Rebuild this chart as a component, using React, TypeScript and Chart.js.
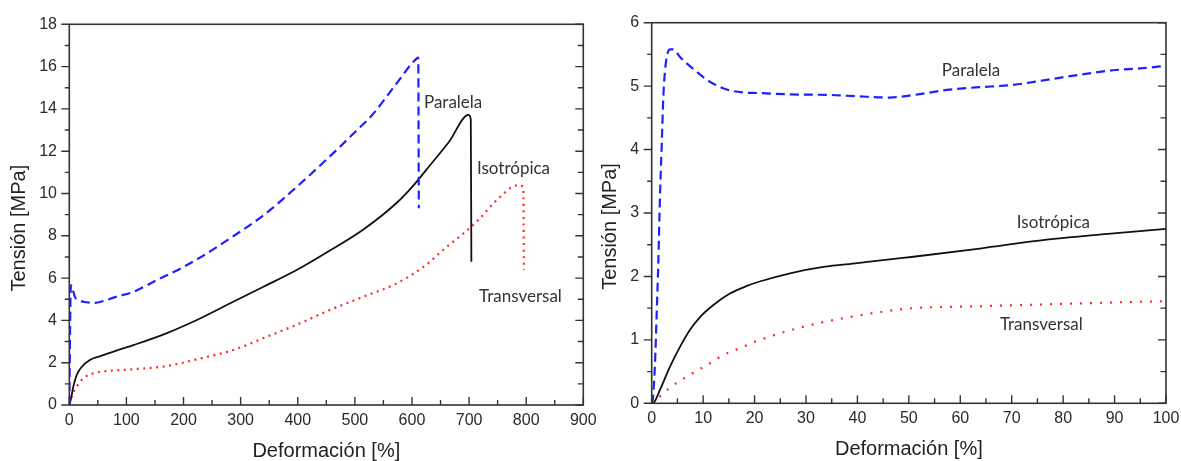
import React, { useEffect, useRef } from "react";
import { Chart, registerables } from "chart.js";

Chart.register(...registerables);

const FONT = "'Liberation Sans', Arial, Helvetica, sans-serif";
const ANNOT_FONT = "Lato, 'Open Sans', sans-serif";

// ---------- Left chart (0–900 %) ----------
const leftParalelaX = [0, 1, 2, 3, 6, 10, 17, 25, 35, 45, 60, 80, 112, 153, 200, 240, 281, 340, 398, 460, 500, 530, 573, 608, 611, 612];
const leftParalelaY = [0, 2.5, 5.0, 5.67, 5.45, 5.1, 4.95, 4.88, 4.84, 4.83, 4.92, 5.1, 5.35, 5.9, 6.53, 7.15, 7.87, 8.97, 10.31, 11.85, 12.9, 13.7, 15.2, 16.38, 16.42, 9.3];

const leftIsoX = [0, 3, 7, 13, 22, 36, 54, 80, 112, 170, 229, 287, 340, 398, 456, 515, 573, 600, 632, 665, 699, 703, 704];
const leftIsoY = [0, 0.3, 0.87, 1.42, 1.81, 2.13, 2.31, 2.55, 2.83, 3.39, 4.09, 4.88, 5.59, 6.38, 7.3, 8.3, 9.55, 10.3, 11.35, 12.45, 13.72, 13.5, 6.77];

const leftTransX = [0, 4, 13, 24.5, 42, 54, 112, 170, 229, 287, 346, 404, 456, 515, 573, 620, 661, 690, 716, 748, 786, 795, 796];
const leftTransY = [0.05, 0.39, 0.87, 1.26, 1.5, 1.57, 1.69, 1.84, 2.2, 2.6, 3.23, 3.86, 4.49, 5.12, 5.75, 6.53, 7.48, 8.11, 8.74, 9.68, 10.39, 10.3, 6.38];

const leftXTicks = [0, 100, 200, 300, 400, 500, 600, 700, 800, 900];
const leftXMinor = [50, 150, 250, 350, 450, 550, 650, 750, 850];
const leftYTicks = [0, 2, 4, 6, 8, 10, 12, 14, 16, 18];
const leftYMinor = [1, 3, 5, 7, 9, 11, 13, 15, 17];

const leftLabels = ["Paralela", "Isotrópica", "Transversal"];
const leftLabelX = [621, 713.8, 717.4];
const leftLabelY = [14.04, 10.9, 4.88];

// ---------- Right chart (0–100 %) ----------
const rightParalelaX = [0, 0.2, 0.64, 0.97, 1.28, 1.61, 1.94, 2.26, 2.6, 2.92, 3.56, 4.2, 5.5, 8.4, 11.3, 14.9, 17.8, 21, 26.9, 35, 40, 46.3, 50.9, 57.4, 63, 70.3, 76.8, 83.3, 89.7, 95, 100];
const rightParalelaY = [0, 0.05, 0.63, 1.42, 2.2, 3.26, 4.05, 4.83, 5.25, 5.46, 5.58, 5.58, 5.46, 5.25, 5.07, 4.94, 4.9, 4.89, 4.87, 4.86, 4.84, 4.82, 4.86, 4.94, 4.98, 5.02, 5.1, 5.18, 5.25, 5.28, 5.32];

const rightIsoX = [0, 0.5, 1.6, 3.56, 5.5, 7.45, 9.4, 12, 15.2, 18.5, 21, 26.9, 33.4, 40, 46.3, 50.9, 63.8, 76.8, 89.8, 100];
const rightIsoY = [0, 0.02, 0.21, 0.58, 0.89, 1.16, 1.36, 1.55, 1.73, 1.85, 1.92, 2.05, 2.15, 2.21, 2.27, 2.31, 2.44, 2.58, 2.68, 2.75];

const rightTransX = [0, 1.94, 3.43, 5.2, 7.1, 9.1, 10.7, 13.9, 17.5, 20.4, 26.9, 33.4, 39.9, 46.3, 50.9, 63.8, 76.8, 89.8, 100];
const rightTransY = [0, 0.13, 0.24, 0.34, 0.43, 0.53, 0.6, 0.76, 0.88, 0.98, 1.15, 1.28, 1.38, 1.46, 1.5, 1.53, 1.56, 1.59, 1.61];

const rightXTicks = [0, 10, 20, 30, 40, 50, 60, 70, 80, 90, 100];
const rightXMinor = [5, 15, 25, 35, 45, 55, 65, 75, 85, 95];
const rightYTicks = [0, 1, 2, 3, 4, 5, 6];
const rightYMinor = [0.5, 1.5, 2.5, 3.5, 4.5, 5.5];

const rightLabels = ["Paralela", "Isotrópica", "Transversal"];
const rightLabelX = [56.4, 71.0, 67.7];
const rightLabelY = [5.16, 2.77, 1.155];

const X_TITLE = "Deformación [%]";
const Y_TITLE = "Tensión [MPa]";

const BLUE = "#2020ff";
const BLACK = "#111111";
const RED = "#ff2a2a";
const AXIS = "#333333";

function zip(xs: number[], ys: number[]) {
  return xs.map((x, i) => ({ x, y: ys[i] }));
}

type Spec = {
  width: number;
  xMax: number;
  yMax: number;
  xTicks: number[];
  xMinor: number[];
  yTicks: number[];
  yMinor: number[];
  yAxisWidth: number;
  xAxisHeight: number;
  padTop: number;
  padRight: number;
  yLabelPad: number;
  yTitleX: number;
  labels: string[];
  labelX: number[];
  labelY: number[];
  dotGap: number;
  series: { x: number[]; y: number[] }[];
};

function makePlugin(spec: Spec) {
  return {
    id: "frameTicks",
    afterDraw(chart: any) {
      const { ctx, chartArea } = chart;
      const { left, right, top, bottom } = chartArea;
      const xs = chart.scales.x;
      const ys = chart.scales.y;
      ctx.save();
      ctx.strokeStyle = AXIS;
      ctx.lineWidth = 1.6;
      ctx.strokeRect(left, top, right - left, bottom - top);
      ctx.lineWidth = 1.4;
      ctx.beginPath();
      for (const v of spec.xTicks) {
        const p = xs.getPixelForValue(v);
        ctx.moveTo(p, bottom);
        ctx.lineTo(p, bottom - 8);
      }
      for (const v of spec.xMinor) {
        const p = xs.getPixelForValue(v);
        ctx.moveTo(p, bottom);
        ctx.lineTo(p, bottom - 5);
      }
      for (const v of spec.yTicks) {
        const p = ys.getPixelForValue(v);
        ctx.moveTo(left, p);
        ctx.lineTo(left - 8, p);
        ctx.moveTo(right, p);
        ctx.lineTo(right - 8, p);
      }
      for (const v of spec.yMinor) {
        const p = ys.getPixelForValue(v);
        ctx.moveTo(left, p);
        ctx.lineTo(left - 4.5, p);
        ctx.moveTo(right, p);
        ctx.lineTo(right - 5.5, p);
      }
      ctx.stroke();

      // axis titles
      ctx.fillStyle = "#222222";
      ctx.font = `20px ${FONT}`;
      ctx.textAlign = "center";
      ctx.textBaseline = "middle";
      ctx.fillText(X_TITLE, (left + right) / 2, bottom + 46.5);
      ctx.save();
      ctx.translate(spec.yTitleX, (top + bottom) / 2 + 13.5);
      ctx.rotate(-Math.PI / 2);
      ctx.fillText(Y_TITLE, 0, 0);
      ctx.restore();

      // curve labels
      ctx.fillStyle = "#333333";
      ctx.font = `17px ${ANNOT_FONT}`;
      ctx.textAlign = "left";
      ctx.textBaseline = "alphabetic";
      spec.labels.forEach((t, i) => {
        ctx.fillText(t, xs.getPixelForValue(spec.labelX[i]), ys.getPixelForValue(spec.labelY[i]));
      });
      ctx.restore();
    },
  };
}

function ChartPanel({ spec, left }: { spec: Spec; left: number }) {
  const ref = useRef<HTMLCanvasElement | null>(null);
  useEffect(() => {
    if (!ref.current) return;
    const [par, iso, tra] = spec.series;
    const chart = new Chart(ref.current, {
      type: "scatter",
      data: {
        datasets: [
          {
            label: "Paralela",
            data: zip(par.x, par.y),
            showLine: true,
            borderColor: BLUE,
            backgroundColor: BLUE,
            borderWidth: 2.2,
            borderDash: [9, 5],
            pointRadius: 0,
            cubicInterpolationMode: "monotone",
          },
          {
            label: "Isotrópica",
            data: zip(iso.x, iso.y),
            showLine: true,
            borderColor: BLACK,
            backgroundColor: BLACK,
            borderWidth: 1.8,
            pointRadius: 0,
            cubicInterpolationMode: "monotone",
          },
          {
            label: "Transversal",
            data: zip(tra.x, tra.y),
            showLine: true,
            borderColor: RED,
            backgroundColor: RED,
            borderWidth: 2.2,
            borderDash: [2, spec.dotGap],
            pointRadius: 0,
            cubicInterpolationMode: "monotone",
          },
        ],
      },
      options: {
        animation: false,
        responsive: false,
        maintainAspectRatio: false,
        layout: { padding: { left: 0, top: spec.padTop, right: spec.padRight, bottom: 0 } },
        plugins: { legend: { display: false }, tooltip: { enabled: false } },
        scales: {
          x: {
            type: "linear",
            min: 0,
            max: spec.xMax,
            grid: { display: false, drawTicks: false },
            border: { display: false },
            ticks: {
              font: { family: FONT, size: 16 },
              color: "#2a2a2a",
              padding: 6,
              maxRotation: 0,
              autoSkip: false,
            },
            afterBuildTicks: (s: any) => {
              s.ticks = spec.xTicks.map((v) => ({ value: v }));
            },
            afterFit: (s: any) => {
              s.height = spec.xAxisHeight;
              s.paddingLeft = 0;
              s.paddingRight = 0;
            },
          },
          y: {
            type: "linear",
            min: 0,
            max: spec.yMax,
            grid: { display: false, drawTicks: false },
            border: { display: false },
            ticks: {
              font: { family: FONT, size: 16 },
              color: "#2a2a2a",
              padding: spec.yLabelPad,
              autoSkip: false,
            },
            afterBuildTicks: (s: any) => {
              s.ticks = spec.yTicks.map((v) => ({ value: v }));
            },
            afterFit: (s: any) => {
              s.width = spec.yAxisWidth;
            },
          },
        },
      },
      plugins: [makePlugin(spec)],
    } as any);
    return () => chart.destroy();
  }, [spec]);
  return (
    <canvas
      ref={ref}
      width={spec.width}
      height={461}
      style={{ position: "absolute", left, top: 0, width: spec.width, height: 461 }}
    />
  );
}

const leftSpec: Spec = {
  width: 598,
  xMax: 900,
  yMax: 18,
  xTicks: leftXTicks,
  xMinor: leftXMinor,
  yTicks: leftYTicks,
  yMinor: leftYMinor,
  yAxisWidth: 69.3,
  xAxisHeight: 56,
  padTop: 24.3,
  padRight: 598 - 583.3,
  yLabelPad: 12.3,
  yTitleX: 19,
  labels: leftLabels,
  labelX: leftLabelX,
  labelY: leftLabelY,
  dotGap: 4.5,
  series: [
    { x: leftParalelaX, y: leftParalelaY },
    { x: leftIsoX, y: leftIsoY },
    { x: leftTransX, y: leftTransY },
  ],
};

const rightSpec: Spec = {
  width: 583,
  xMax: 100,
  yMax: 6,
  xTicks: rightXTicks,
  xMinor: rightXMinor,
  yTicks: rightYTicks,
  yMinor: rightYMinor,
  yAxisWidth: 53.7,
  xAxisHeight: 57.7,
  padTop: 22.7,
  padRight: 15,
  yLabelPad: 12.5,
  yTitleX: 12.5,
  labels: rightLabels,
  labelX: rightLabelX,
  labelY: rightLabelY,
  dotGap: 8,
  series: [
    { x: rightParalelaX, y: rightParalelaY },
    { x: rightIsoX, y: rightIsoY },
    { x: rightTransX, y: rightTransY },
  ],
};

export default function App() {
  return (
    <div style={{ position: "absolute", left: 0, top: 0, width: 1181, height: 461, background: "#ffffff", overflow: "hidden" }}>
      <ChartPanel spec={leftSpec} left={0} />
      <ChartPanel spec={rightSpec} left={598} />
    </div>
  );
}
